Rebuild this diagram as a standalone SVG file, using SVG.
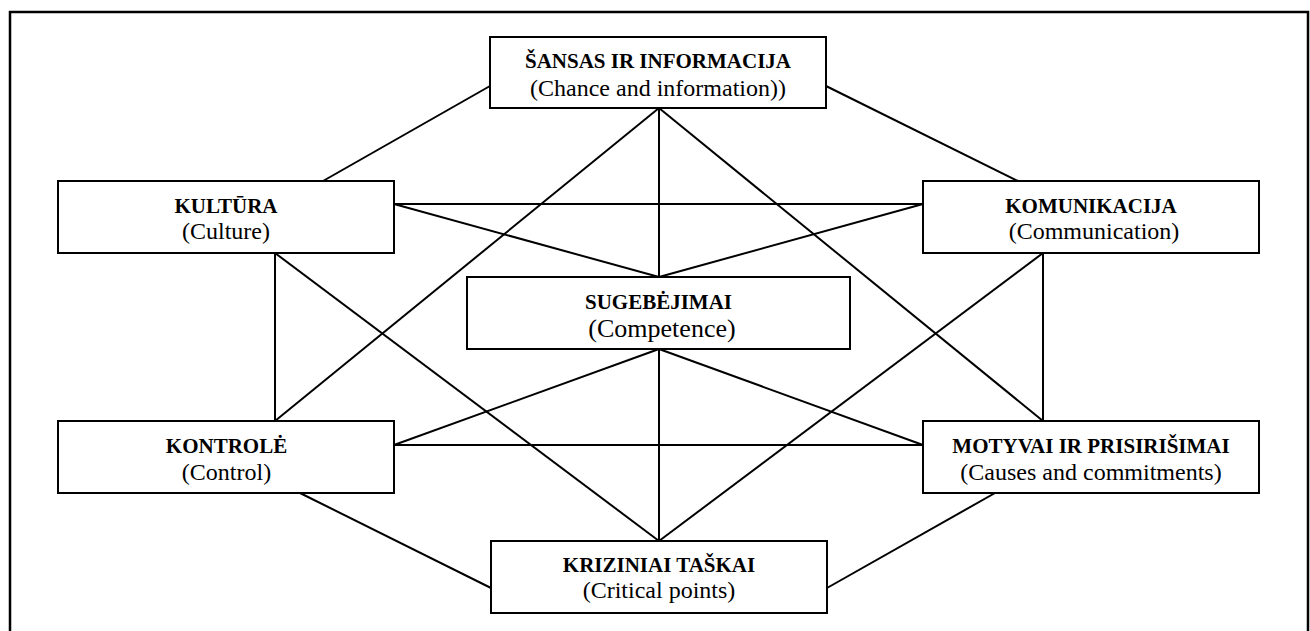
<svg xmlns="http://www.w3.org/2000/svg" width="1310" height="631" viewBox="0 0 1310 631">
  <style>
    .box { fill: #fff; stroke: #000; stroke-width: 2; }
    .edge { stroke: #000; stroke-width: 2; fill: none; }
    text { font-family: 'Liberation Serif', 'Times New Roman', Times, 'DejaVu Serif', serif; text-anchor: middle; fill: #000; }
    .title { font-weight: bold; font-size: 21px; }
    .sub { font-size: 24px; }
  </style>
  <rect width="1310" height="631" fill="#fff"/>
  <!-- open frame: top, left and right sides -->
  <path d="M10,640 V12 H1308 V640" fill="none" stroke="#000" stroke-width="2.5"/>

  <g id="connectors">
    <line class="edge" x1="490" y1="86" x2="323" y2="181"/>
    <line class="edge" x1="826" y1="86" x2="1018" y2="181"/>
    <line class="edge" x1="659" y1="108" x2="659" y2="277"/>
    <line class="edge" x1="659" y1="108" x2="275" y2="421"/>
    <line class="edge" x1="659" y1="108" x2="1043" y2="421"/>
    <line class="edge" x1="394" y1="204" x2="923" y2="204"/>
    <line class="edge" x1="394" y1="204" x2="659" y2="277"/>
    <line class="edge" x1="923" y1="204" x2="659" y2="277"/>
    <line class="edge" x1="275" y1="253" x2="275" y2="421"/>
    <line class="edge" x1="275" y1="253" x2="659" y2="541"/>
    <line class="edge" x1="1043" y1="253" x2="1043" y2="421"/>
    <line class="edge" x1="1043" y1="253" x2="659" y2="541"/>
    <line class="edge" x1="659" y1="349" x2="659" y2="541"/>
    <line class="edge" x1="659" y1="349" x2="394" y2="445"/>
    <line class="edge" x1="659" y1="349" x2="923" y2="445"/>
    <line class="edge" x1="394" y1="445" x2="923" y2="445"/>
    <line class="edge" x1="300" y1="493" x2="491" y2="588"/>
    <line class="edge" x1="995" y1="493" x2="827" y2="588"/>
  </g>

  <g id="node-sansas">
    <rect class="box" x="490" y="37" width="336" height="71"/>
    <text class="title" x="658" y="68">ŠANSAS IR INFORMACIJA</text>
    <text class="sub" x="658" y="96">(Chance and information))</text>
  </g>

  <g id="node-kultura">
    <rect class="box" x="58" y="181" width="336" height="72"/>
    <text class="title" x="226" y="213">KULTŪRA</text>
    <text class="sub" x="226" y="239">(Culture)</text>
  </g>

  <g id="node-komunikacija">
    <rect class="box" x="923" y="181" width="336" height="72"/>
    <text class="title" x="1091" y="213">KOMUNIKACIJA</text>
    <text class="sub" x="1094" y="239">(Communication)</text>
  </g>

  <g id="node-sugebejimai">
    <rect class="box" x="467" y="277" width="383" height="72"/>
    <text class="title" x="658.5" y="309">SUGEBĖJIMAI</text>
    <text class="sub" x="662" y="337" style="font-size:26px">(Competence)</text>
  </g>

  <g id="node-kontrole">
    <rect class="box" x="58" y="421" width="336" height="72"/>
    <text class="title" x="226.5" y="453">KONTROLĖ</text>
    <text class="sub" x="226.5" y="480">(Control)</text>
  </g>

  <g id="node-motyvai">
    <rect class="box" x="923" y="421" width="336" height="72"/>
    <text class="title" x="1091" y="453">MOTYVAI IR PRISIRIŠIMAI</text>
    <text class="sub" x="1091" y="480">(Causes and commitments)</text>
  </g>

  <g id="node-kriziniai">
    <rect class="box" x="491" y="541" width="336" height="72"/>
    <text class="title" x="659" y="572">KRIZINIAI TAŠKAI</text>
    <text class="sub" x="659" y="598">(Critical points)</text>
  </g>
</svg>
